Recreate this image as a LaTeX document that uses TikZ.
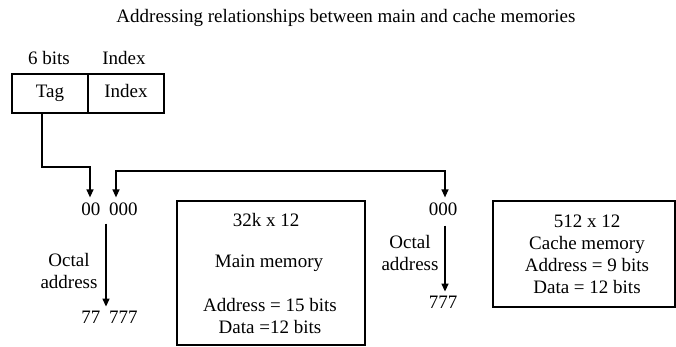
\documentclass[tikz,border=0pt]{standalone}
\usepackage{fontspec}
\setmainfont{Liberation Serif}
\usetikzlibrary{arrows.meta}
\begin{document}
\begin{tikzpicture}[x=1pt,y=-1pt,
  every node/.style={font=\fontsize{19}{22}\selectfont, inner sep=0pt},
  lbl/.style={align=center},
  field/.style={draw, line width=1.3pt, minimum width=76pt, minimum height=39pt, text height=13pt, text depth=4pt},
  membox/.style={draw, line width=1.3pt},
  conn/.style={line width=1.3pt},
  arr/.style={conn, -{Triangle[width=7pt,length=8pt]}},
  darr/.style={conn, {Triangle[width=7pt,length=8pt]}-{Triangle[width=7pt,length=8pt]}}]
\useasboundingbox (0,0) rectangle (676,347);
% title
\node (title) at (346,18) {Addressing relationships between main and cache memories};
% field labels
\node (bits) at (49,58) {6 bits};
\node (idxl) at (124,58) {Index};
\node[field] (tag) at (50,93.5) {Tag};
\node[field] (idx) at (126,93.5) {Index};
% main memory addresses
\node (a0) at (109.5,209) {00\hspace{4pt} 000};
\node (a7) at (109.5,317) {77\hspace{4pt} 777};
\node[lbl] (oct1) at (69,271) {Octal\\address};
% cache addresses
\node (c0) at (443,209) {000};
\node (c7) at (443,302) {777};
\node[lbl] (oct2) at (410,253) {Octal\\address};
% main memory box
\node[membox, minimum width=188pt, minimum height=144pt] (mm) at (271,273) {};
\node (m1) at (266,220) {32k x 12};
\node (m2) at (269,263) {Main memory};
\node (m3) at (270,305) {Address = 15 bits};
\node (m4) at (270,327) {Data =12 bits};
% cache memory box
\node[membox, minimum width=182pt, minimum height=106pt] (cm) at (584,254) {};
\node[lbl] (cmt) at (587,254) {512 x 12\\Cache memory\\Address = 9 bits\\Data = 12 bits};
% connectors
\coordinate (tagout) at ([xshift=-8pt]tag.south);
\coordinate (turn1) at (42,167);
\draw[arr] (tagout) -- (turn1) -| ([xshift=-19.5pt,yshift=5pt]a0.north);
\draw[darr] ([xshift=6.5pt,yshift=5pt]a0.north) |- (280,171) -| ([xshift=2pt,yshift=5pt]c0.north);
\draw[arr] ([xshift=-3.5pt,yshift=-8pt]a0.south) -- ([xshift=-3.5pt,yshift=4pt]a7.north);
\draw[arr] ([xshift=2pt,yshift=-10pt]c0.south) -- ([xshift=2pt,yshift=4pt]c7.north);
\end{tikzpicture}
\end{document}
